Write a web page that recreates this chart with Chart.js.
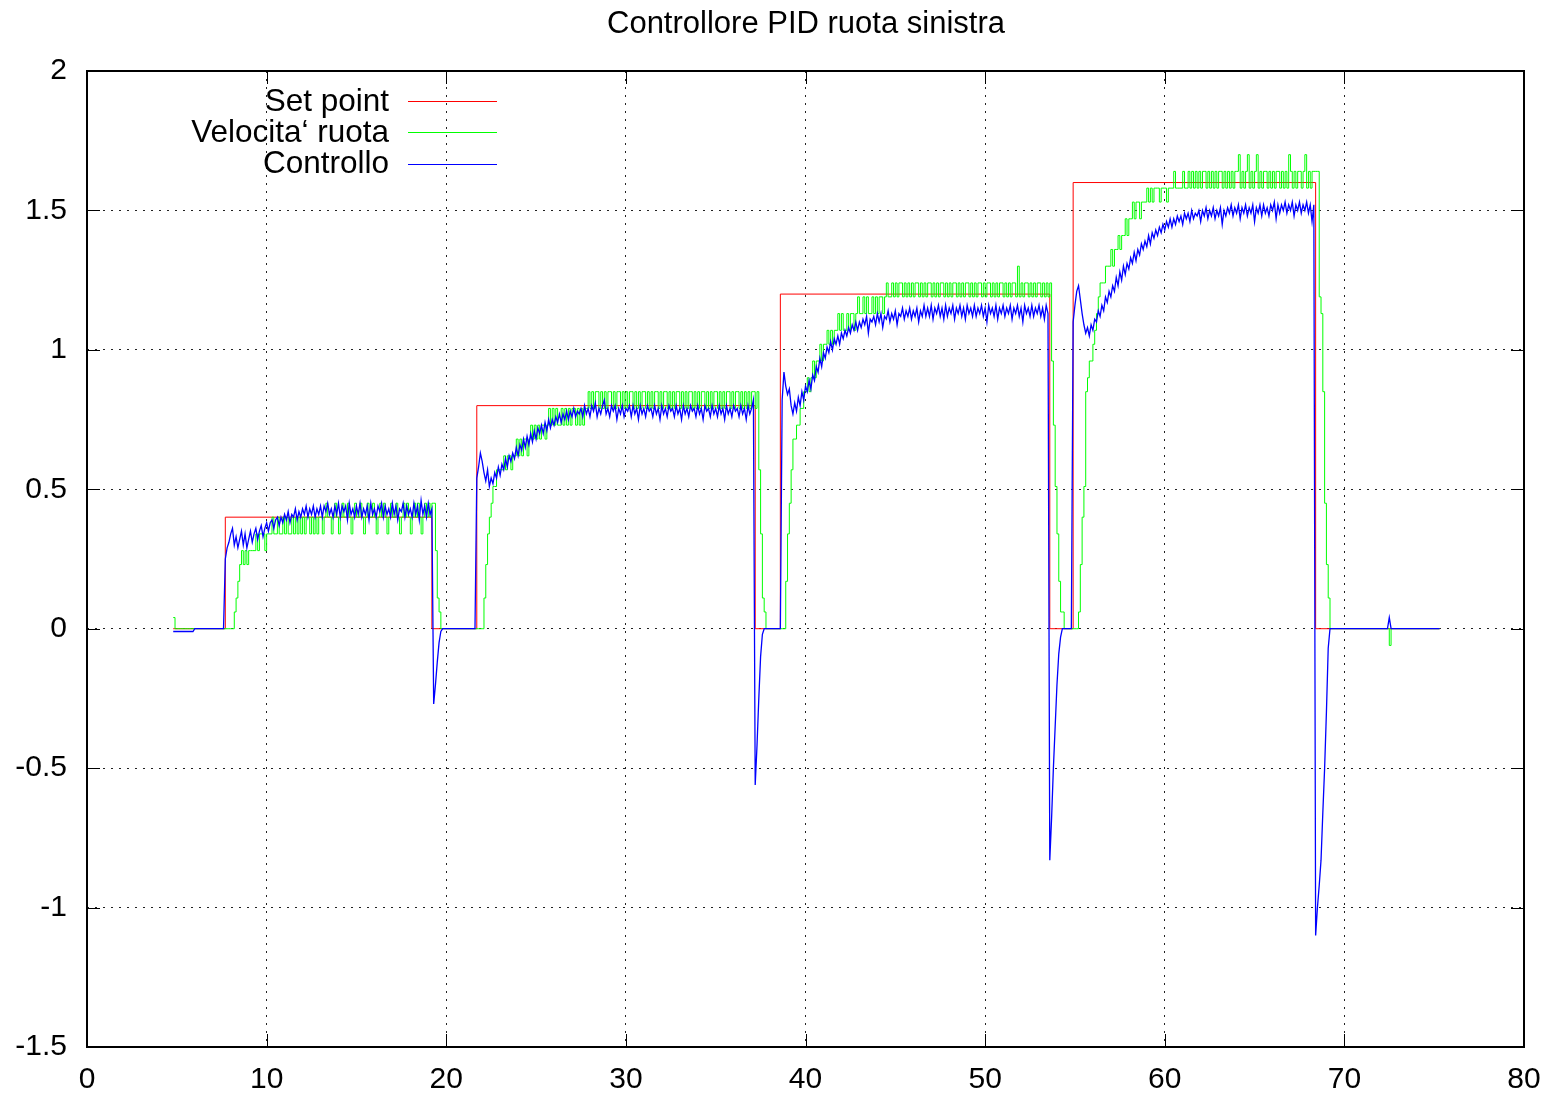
<!DOCTYPE html>
<html>
<head>
<meta charset="utf-8">
<title>Controllore PID ruota sinistra</title>
<script src="https://cdn.jsdelivr.net/npm/chart.js@4.4.1/dist/chart.umd.min.js"></script>
<style>
  html, body { margin: 0; padding: 0; background: #fff; }
  canvas { display: block; }
</style>
</head>
<body>
<canvas id="chart" width="1558" height="1098"></canvas>
<script>
// logger clock: one sample every 0.1 s starting at t = 4.8 s
var sampleStart = 4.8;
var sampleStep = 0.1;

// set point steps (time of change, new value)
var setPointTime  = [4.8, 7.7, 19.2, 21.7, 37.2, 38.6, 53.6, 54.9, 68.4, 75.3];
var setPointValue = [0,   0.4, 0,    0.8,  0,    1.2,  0,    1.6,  0,    0];

// Velocita' ruota (quantized encoder speed), one row per second, rows start at x.8 s
var velocitaValue = [
  0.04, 0, 0, 0, 0, 0, 0, 0, 0, 0,
  0, 0, 0, 0, 0, 0, 0, 0, 0, 0,
  0, 0, 0, 0, 0, 0, 0, 0, 0, 0,
  0, 0, 0, 0, 0.06, 0.11, 0.17, 0.23, 0.28, 0.23,
  0.28, 0.23, 0.28, 0.28, 0.28, 0.28, 0.34, 0.28, 0.34, 0.34,
  0.34, 0.28, 0.34, 0.34, 0.34, 0.40, 0.34, 0.34, 0.40, 0.34,
  0.34, 0.40, 0.34, 0.40, 0.34, 0.34, 0.40, 0.34, 0.40, 0.34,
  0.40, 0.34, 0.40, 0.34, 0.40, 0.40, 0.34, 0.40, 0.34, 0.40,
  0.34, 0.40, 0.40, 0.34, 0.40, 0.45, 0.40, 0.40, 0.34, 0.40,
  0.45, 0.40, 0.34, 0.40, 0.45, 0.40, 0.40, 0.45, 0.40, 0.34,
  0.40, 0.45, 0.40, 0.40, 0.45, 0.40, 0.34, 0.40, 0.45, 0.40,
  0.40, 0.45, 0.40, 0.34, 0.40, 0.45, 0.40, 0.45, 0.40, 0.34,
  0.40, 0.45, 0.40, 0.40, 0.45, 0.40, 0.34, 0.40, 0.45, 0.40,
  0.45, 0.40, 0.34, 0.40, 0.45, 0.40, 0.45, 0.40, 0.34, 0.40,
  0.45, 0.40, 0.45, 0.40, 0.45, 0.45, 0.28, 0.11, 0.06, 0,
  0, 0, 0, 0, 0, 0, 0, 0, 0, 0,
  0, 0, 0, 0, 0, 0, 0, 0, 0, 0,
  0, 0, 0, 0.11, 0.23, 0.34, 0.40, 0.45, 0.51, 0.51,
  0.57, 0.57, 0.57, 0.57, 0.62, 0.57, 0.62, 0.62, 0.57, 0.62,
  0.62, 0.68, 0.62, 0.68, 0.62, 0.68, 0.68, 0.62, 0.68, 0.73,
  0.68, 0.73, 0.68, 0.73, 0.68, 0.73, 0.73, 0.68, 0.73, 0.79,
  0.73, 0.79, 0.73, 0.79, 0.73, 0.73, 0.79, 0.73, 0.79, 0.73,
  0.79, 0.73, 0.79, 0.79, 0.73, 0.79, 0.73, 0.79, 0.73, 0.79,
  0.79, 0.85, 0.79, 0.85, 0.79, 0.85, 0.85, 0.79, 0.85, 0.79,
  0.85, 0.79, 0.85, 0.85, 0.79, 0.85, 0.79, 0.85, 0.85, 0.79,
  0.85, 0.79, 0.85, 0.79, 0.85, 0.85, 0.79, 0.85, 0.79, 0.85,
  0.79, 0.85, 0.85, 0.79, 0.85, 0.79, 0.85, 0.79, 0.85, 0.85,
  0.79, 0.85, 0.79, 0.85, 0.85, 0.79, 0.85, 0.79, 0.85, 0.79,
  0.85, 0.85, 0.79, 0.85, 0.79, 0.85, 0.79, 0.85, 0.85, 0.79,
  0.85, 0.79, 0.85, 0.79, 0.85, 0.85, 0.79, 0.85, 0.79, 0.85,
  0.79, 0.85, 0.85, 0.79, 0.85, 0.79, 0.85, 0.79, 0.85, 0.85,
  0.79, 0.85, 0.79, 0.85, 0.85, 0.79, 0.85, 0.79, 0.85, 0.79,
  0.85, 0.79, 0.85, 0.85, 0.79, 0.85, 0.57, 0.34, 0.11, 0.06,
  0, 0, 0, 0, 0, 0, 0, 0, 0, 0,
  0, 0.17, 0.34, 0.45, 0.57, 0.68, 0.68, 0.73, 0.73, 0.79,
  0.79, 0.85, 0.85, 0.90, 0.85, 0.90, 0.96, 0.90, 0.96, 0.96,
  1.02, 0.96, 1.02, 1.02, 1.07, 1.02, 1.07, 1.02, 1.07, 1.07,
  1.13, 1.07, 1.13, 1.07, 1.07, 1.13, 1.07, 1.13, 1.13, 1.07,
  1.13, 1.19, 1.13, 1.13, 1.19, 1.13, 1.19, 1.13, 1.13, 1.19,
  1.13, 1.19, 1.13, 1.19, 1.19, 1.13, 1.19, 1.24, 1.19, 1.19,
  1.24, 1.19, 1.24, 1.19, 1.24, 1.24, 1.19, 1.24, 1.19, 1.24,
  1.19, 1.24, 1.19, 1.24, 1.24, 1.19, 1.24, 1.19, 1.24, 1.19,
  1.24, 1.24, 1.19, 1.24, 1.19, 1.24, 1.19, 1.24, 1.24, 1.19,
  1.24, 1.19, 1.24, 1.19, 1.24, 1.24, 1.19, 1.24, 1.19, 1.24,
  1.19, 1.24, 1.24, 1.19, 1.24, 1.19, 1.24, 1.19, 1.24, 1.24,
  1.19, 1.24, 1.19, 1.24, 1.24, 1.19, 1.24, 1.19, 1.24, 1.19,
  1.24, 1.24, 1.19, 1.24, 1.19, 1.24, 1.19, 1.24, 1.24, 1.19,
  1.30, 1.19, 1.24, 1.19, 1.24, 1.24, 1.19, 1.24, 1.19, 1.24,
  1.19, 1.24, 1.24, 1.19, 1.24, 1.19, 1.24, 1.19, 1.24, 0.96,
  0.73, 0.51, 0.34, 0.17, 0.06, 0.06, 0, 0, 0, 0,
  0, 0, 0, 0, 0.06, 0.23, 0.40, 0.51, 0.85, 0.90,
  0.96, 0.96, 1.02, 1.07, 1.13, 1.19, 1.24, 1.24, 1.24, 1.30,
  1.30, 1.30, 1.36, 1.30, 1.36, 1.36, 1.41, 1.36, 1.41, 1.41,
  1.47, 1.41, 1.47, 1.47, 1.53, 1.47, 1.53, 1.53, 1.47, 1.53,
  1.53, 1.53, 1.58, 1.53, 1.58, 1.53, 1.58, 1.58, 1.58, 1.53,
  1.58, 1.58, 1.58, 1.53, 1.58, 1.58, 1.58, 1.64, 1.58, 1.58,
  1.58, 1.58, 1.64, 1.58, 1.58, 1.64, 1.58, 1.64, 1.58, 1.64,
  1.58, 1.64, 1.58, 1.64, 1.64, 1.58, 1.64, 1.58, 1.64, 1.58,
  1.64, 1.58, 1.64, 1.64, 1.58, 1.64, 1.58, 1.64, 1.58, 1.64,
  1.58, 1.64, 1.64, 1.70, 1.58, 1.64, 1.58, 1.64, 1.70, 1.58,
  1.64, 1.58, 1.64, 1.70, 1.58, 1.64, 1.58, 1.64, 1.64, 1.58,
  1.64, 1.58, 1.64, 1.58, 1.64, 1.64, 1.58, 1.64, 1.58, 1.64,
  1.58, 1.70, 1.64, 1.58, 1.64, 1.58, 1.64, 1.64, 1.58, 1.64,
  1.70, 1.58, 1.64, 1.58, 1.64, 1.64, 1.64, 1.64, 1.19, 1.13,
  0.85, 0.45, 0.23, 0.11, 0, 0, 0, 0, 0, 0,
  0, 0, 0, 0, 0, 0, 0, 0, 0, 0,
  0, 0, 0, 0, 0, 0, 0, 0, 0, 0,
  0, 0, 0, 0, 0, 0, 0, -0.06, 0, 0,
  0, 0, 0, 0, 0, 0, 0, 0, 0, 0,
  0, 0, 0, 0, 0, 0, 0, 0, 0, 0,
  0, 0, 0, 0, 0, 0
];

// Controllo (PID output), same clock
var controlloValue = [
  -0.01, -0.01, -0.01, -0.01, -0.01, -0.01, -0.01, -0.01, -0.01, -0.01,
  -0.01, -0.01, 0, 0, 0, 0, 0, 0, 0, 0,
  0, 0, 0, 0, 0, 0, 0, 0, 0, 0.25,
  0.29, 0.31, 0.34, 0.36, 0.30, 0.33, 0.29, 0.32, 0.35, 0.30,
  0.34, 0.29, 0.32, 0.35, 0.31, 0.34, 0.36, 0.32, 0.35, 0.37,
  0.33, 0.36, 0.38, 0.35, 0.38, 0.39, 0.36, 0.39, 0.40, 0.37,
  0.40, 0.38, 0.41, 0.39, 0.42, 0.38, 0.41, 0.40, 0.43, 0.39,
  0.42, 0.40, 0.43, 0.41, 0.44, 0.40, 0.43, 0.41, 0.44, 0.40,
  0.43, 0.41, 0.44, 0.40, 0.44, 0.42, 0.45, 0.41, 0.43, 0.40,
  0.44, 0.41, 0.45, 0.40, 0.44, 0.42, 0.44, 0.39, 0.45, 0.41,
  0.43, 0.40, 0.44, 0.41, 0.45, 0.40, 0.43, 0.41, 0.44, 0.39,
  0.45, 0.41, 0.43, 0.40, 0.44, 0.42, 0.45, 0.40, 0.44, 0.41,
  0.43, 0.40, 0.45, 0.41, 0.44, 0.39, 0.43, 0.42, 0.45, 0.40,
  0.44, 0.41, 0.43, 0.40, 0.45, 0.41, 0.44, 0.39, 0.46, 0.41,
  0.44, 0.40, 0.45, 0.41, 0.43, -0.27, -0.20, -0.12, -0.05, -0.01,
  0, 0, 0, 0, 0, 0, 0, 0, 0, 0,
  0, 0, 0, 0, 0, 0, 0, 0, 0, 0.54,
  0.58, 0.63, 0.60, 0.56, 0.53, 0.57, 0.51, 0.54, 0.52, 0.56,
  0.54, 0.58, 0.55, 0.59, 0.57, 0.61, 0.58, 0.62, 0.60, 0.63,
  0.61, 0.65, 0.62, 0.66, 0.64, 0.68, 0.65, 0.69, 0.66, 0.70,
  0.67, 0.71, 0.68, 0.72, 0.70, 0.73, 0.70, 0.74, 0.71, 0.75,
  0.72, 0.75, 0.73, 0.76, 0.74, 0.77, 0.74, 0.77, 0.75, 0.78,
  0.75, 0.78, 0.76, 0.79, 0.76, 0.78, 0.77, 0.79, 0.76, 0.80,
  0.77, 0.79, 0.76, 0.80, 0.78, 0.81, 0.76, 0.79, 0.77, 0.80,
  0.82, 0.77, 0.79, 0.76, 0.80, 0.78, 0.80, 0.75, 0.79, 0.77,
  0.80, 0.76, 0.79, 0.78, 0.80, 0.76, 0.80, 0.77, 0.79, 0.75,
  0.80, 0.77, 0.79, 0.76, 0.80, 0.78, 0.79, 0.76, 0.80, 0.77,
  0.79, 0.75, 0.80, 0.77, 0.79, 0.76, 0.80, 0.78, 0.79, 0.76,
  0.80, 0.77, 0.79, 0.75, 0.80, 0.77, 0.79, 0.76, 0.80, 0.78,
  0.79, 0.76, 0.80, 0.77, 0.79, 0.75, 0.80, 0.78, 0.79, 0.76,
  0.80, 0.77, 0.79, 0.76, 0.80, 0.77, 0.79, 0.75, 0.80, 0.77,
  0.79, 0.76, 0.80, 0.78, 0.79, 0.76, 0.80, 0.77, 0.79, 0.75,
  0.80, 0.77, 0.79, 0.82, -0.56, -0.42, -0.25, -0.10, -0.02, 0,
  0, 0, 0, 0, 0, 0, 0, 0, 0, 0.82,
  0.92, 0.87, 0.84, 0.86, 0.80, 0.77, 0.81, 0.78, 0.83, 0.80,
  0.85, 0.82, 0.87, 0.85, 0.89, 0.86, 0.91, 0.89, 0.94, 0.92,
  0.97, 0.94, 0.99, 0.97, 1.01, 0.99, 1.03, 1.00, 1.04, 1.02,
  1.05, 1.02, 1.06, 1.04, 1.07, 1.05, 1.08, 1.06, 1.09, 1.07,
  1.10, 1.07, 1.10, 1.08, 1.11, 1.09, 1.12, 1.06, 1.11, 1.10,
  1.12, 1.09, 1.13, 1.10, 1.13, 1.08, 1.12, 1.11, 1.14, 1.10,
  1.13, 1.11, 1.14, 1.09, 1.13, 1.12, 1.15, 1.11, 1.14, 1.12,
  1.15, 1.11, 1.14, 1.12, 1.15, 1.10, 1.14, 1.12, 1.16, 1.12,
  1.15, 1.12, 1.16, 1.11, 1.15, 1.13, 1.16, 1.12, 1.15, 1.11,
  1.16, 1.12, 1.15, 1.13, 1.16, 1.11, 1.15, 1.13, 1.16, 1.12,
  1.15, 1.11, 1.16, 1.13, 1.15, 1.12, 1.16, 1.12, 1.15, 1.13,
  1.16, 1.12, 1.15, 1.10, 1.16, 1.13, 1.15, 1.12, 1.16, 1.11,
  1.15, 1.13, 1.16, 1.12, 1.15, 1.13, 1.16, 1.11, 1.15, 1.13,
  1.16, 1.12, 1.15, 1.10, 1.16, 1.13, 1.15, 1.12, 1.16, 1.12,
  1.15, 1.13, 1.16, 1.12, 1.15, 1.11, 1.16, 1.13, -0.83, -0.68,
  -0.50, -0.35, -0.20, -0.09, -0.03, 0, 0, 0, 0, 0,
  0, 1.10, 1.16, 1.21, 1.23, 1.18, 1.13, 1.09, 1.06, 1.08,
  1.05, 1.09, 1.07, 1.11, 1.10, 1.14, 1.12, 1.16, 1.14, 1.19,
  1.17, 1.21, 1.19, 1.23, 1.21, 1.26, 1.23, 1.28, 1.25, 1.30,
  1.27, 1.31, 1.29, 1.33, 1.31, 1.35, 1.32, 1.36, 1.34, 1.38,
  1.36, 1.39, 1.37, 1.41, 1.38, 1.42, 1.40, 1.43, 1.41, 1.44,
  1.42, 1.45, 1.43, 1.46, 1.44, 1.47, 1.44, 1.47, 1.45, 1.48,
  1.46, 1.48, 1.45, 1.49, 1.47, 1.49, 1.46, 1.50, 1.47, 1.49,
  1.48, 1.50, 1.46, 1.50, 1.48, 1.51, 1.47, 1.50, 1.48, 1.51,
  1.47, 1.50, 1.48, 1.51, 1.45, 1.50, 1.48, 1.51, 1.49, 1.52,
  1.48, 1.51, 1.49, 1.52, 1.47, 1.51, 1.49, 1.52, 1.48, 1.51,
  1.49, 1.52, 1.46, 1.51, 1.49, 1.52, 1.48, 1.52, 1.49, 1.51,
  1.48, 1.52, 1.50, 1.53, 1.47, 1.52, 1.49, 1.52, 1.50, 1.53,
  1.49, 1.52, 1.50, 1.53, 1.48, 1.52, 1.50, 1.53, 1.49, 1.52,
  1.50, 1.53, 1.49, 1.52, 1.46, 1.52, -1.10, -1.00, -0.92, -0.83,
  -0.66, -0.50, -0.30, -0.07, 0, 0, 0, 0, 0, 0,
  0, 0, 0, 0, 0, 0, 0, 0, 0, 0,
  0, 0, 0, 0, 0, 0, 0, 0, 0, 0,
  0, 0, 0, 0, 0, 0, 0, 0.04, 0, 0,
  0, 0, 0, 0, 0, 0, 0, 0, 0, 0,
  0, 0, 0, 0, 0, 0, 0, 0, 0, 0,
  0, 0, 0, 0, 0, 0
];

var xTicks = [0, 10, 20, 30, 40, 50, 60, 70, 80];
var yTicks = [-1.5, -1, -0.5, 0, 0.5, 1, 1.5, 2];

var seriesNames  = ["Set point", "Velocita\u2018 ruota", "Controllo"];
var seriesColors = ["#ff0000", "#00ff00", "#0000ff"];
var chartTitle = "Controllore PID ruota sinistra";

var fontFamily = '"Liberation Sans", Arial, sans-serif';

function sampled(values) {
  return values.map(function (v, i) {
    return { x: +(sampleStart + i * sampleStep).toFixed(2), y: v };
  });
}

function paired(times, values) {
  return times.map(function (t, i) { return { x: t, y: values[i] }; });
}

// frame, inward ticks, title and key drawn like gnuplot
var gnuplotDecor = {
  id: 'gnuplotDecor',
  afterDraw: function (chart) {
    var ctx = chart.ctx, a = chart.chartArea;
    var xs = chart.scales.x, ys = chart.scales.y;
    var tickLen = 13;
    ctx.save();
    ctx.strokeStyle = '#000';
    ctx.lineWidth = 1;
    ctx.beginPath();
    xTicks.forEach(function (t) {
      var px = Math.round(xs.getPixelForValue(t)) + 0.5;
      ctx.moveTo(px, a.bottom); ctx.lineTo(px, a.bottom - tickLen);
      ctx.moveTo(px, a.top); ctx.lineTo(px, a.top + tickLen);
    });
    yTicks.forEach(function (t) {
      var py = Math.round(ys.getPixelForValue(t)) + 0.5;
      ctx.moveTo(a.left, py); ctx.lineTo(a.left + tickLen, py);
      ctx.moveTo(a.right, py); ctx.lineTo(a.right - tickLen, py);
    });
    ctx.stroke();

    ctx.lineWidth = 2;
    ctx.strokeRect(a.left, a.top, a.right - a.left, a.bottom - a.top);

    // title
    ctx.fillStyle = '#000';
    ctx.font = '31px ' + fontFamily;
    ctx.textAlign = 'center';
    ctx.textBaseline = 'middle';
    ctx.fillText(chartTitle, 806, 24);

    // key
    ctx.font = '31.5px ' + fontFamily;
    ctx.textAlign = 'right';
    ctx.lineWidth = 1;
    seriesNames.forEach(function (name, i) {
      var y = 101 + i * 31.3;
      ctx.fillText(name, 389, y + 1);
      ctx.strokeStyle = seriesColors[i];
      ctx.beginPath();
      ctx.moveTo(408, Math.round(y) + 0.5);
      ctx.lineTo(497, Math.round(y) + 0.5);
      ctx.stroke();
    });
    ctx.restore();
  }
};

Chart.defaults.font.family = fontFamily;
Chart.defaults.font.size = 30;
Chart.defaults.color = '#000';

var chart = new Chart(document.getElementById("chart"), {
  type: 'line',
  data: {
    datasets: [
      {
        label: seriesNames[0],
        data: paired(setPointTime, setPointValue),
        borderColor: seriesColors[0],
        borderWidth: 1,
        stepped: 'before',
        pointRadius: 0,
        order: 3
      },
      {
        label: seriesNames[1],
        data: sampled(velocitaValue),
        borderColor: seriesColors[1],
        borderWidth: 1,
        stepped: 'before',
        pointRadius: 0,
        order: 2
      },
      {
        label: seriesNames[2],
        data: sampled(controlloValue),
        borderColor: seriesColors[2],
        borderWidth: 1.3,
        tension: 0,
        pointRadius: 0,
        order: 1
      }
    ]
  },
  options: {
    responsive: false,
    animation: false,
    events: [],
    layout: { padding: { top: 71, right: 34, left: 0, bottom: 0 } },
    plugins: {
      legend: { display: false },
      title: { display: false },
      tooltip: { enabled: false }
    },
    scales: {
      x: {
        type: 'linear',
        min: 0,
        max: 80,
        afterBuildTicks: function (s) { s.ticks = xTicks.map(function (v) { return { value: v }; }); },
        afterFit: function (s) { s.height = 51; },
        ticks: { padding: 15, maxRotation: 0, autoSkip: false, callback: function (v) { return String(v); } },
        grid: { color: '#222', lineWidth: 1, drawTicks: false },
        border: { display: false, dash: [2, 6] }
      },
      y: {
        type: 'linear',
        min: -1.5,
        max: 2,
        afterBuildTicks: function (s) { s.ticks = yTicks.map(function (v) { return { value: v }; }); },
        afterFit: function (s) { s.width = 87; },
        ticks: { padding: 20, autoSkip: false, callback: function (v) { return String(v); } },
        grid: { color: '#222', lineWidth: 1, drawTicks: false },
        border: { display: false, dash: [2, 6] }
      }
    }
  },
  plugins: [gnuplotDecor]
});
</script>
</body>
</html>
